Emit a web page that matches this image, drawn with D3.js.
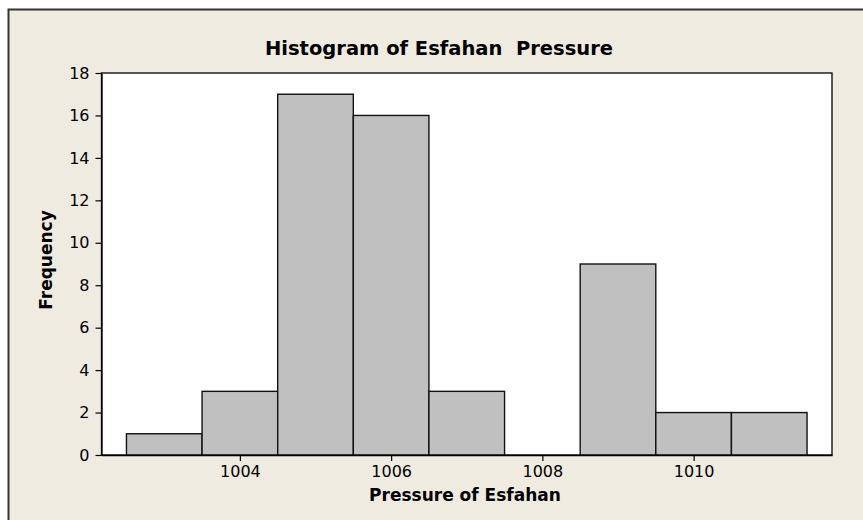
<!DOCTYPE html>
<html>
<head>
<meta charset="utf-8">
<script src="https://cdn.jsdelivr.net/npm/d3@7"></script>
<style>
  body { margin: 0; background: #ffffff; }
  svg text { font-family: Tahoma, "DejaVu Sans", sans-serif; fill: #000; }
</style>
</head>
<body>
<svg id="chart" width="863" height="520"></svg>
<script>
// histogram bins (lower edge), counts, axis ticks
const binStarts = [1002.5, 1003.5, 1004.5, 1005.5, 1006.5, 1007.5, 1008.5, 1009.5, 1010.5];
const binWidth = 1;
const counts = [1, 3, 17, 16, 3, 0, 9, 2, 2];
const xTicks = [1004, 1006, 1008, 1010];
const yTicks = [0, 2, 4, 6, 8, 10, 12, 14, 16, 18];

const svg = d3.select('#chart');
const margin = { left: 101.5, right: 31, top: 73, bottom: 65 };
const width = +svg.attr('width');
const height = +svg.attr('height');

// beige frame with a dark border on top and left
svg.append('rect')
  .attr('x', 8.5).attr('y', 9.5)
  .attr('width', width + 10).attr('height', height + 10)
  .attr('fill', '#efebe1')
  .attr('stroke', '#333')
  .attr('stroke-width', 2);

const x = d3.scaleLinear()
  .domain([1002.17, 1011.83])
  .range([margin.left, width - margin.right]);

const y = d3.scaleLinear()
  .domain([0, 18])
  .range([height - margin.bottom, margin.top]);

// white plot area
svg.append('rect')
  .attr('x', x.range()[0]).attr('y', y(18))
  .attr('width', x.range()[1] - x.range()[0])
  .attr('height', y(0) - y(18))
  .attr('fill', '#fff')
  .attr('stroke', '#000')
  .attr('stroke-width', 1.3);

// bars
svg.append('g').selectAll('rect.bar')
  .data(binStarts.map((s, i) => ({ s, c: counts[i] })))
  .enter().append('rect')
    .attr('class', 'bar')
    .attr('x', d => x(d.s))
    .attr('y', d => y(d.c))
    .attr('width', d => x(d.s + binWidth) - x(d.s))
    .attr('height', d => y(0) - y(d.c))
    .attr('fill', '#c0c0c0')
    .attr('stroke', '#111')
    .attr('stroke-width', 1.4);

// axes
const xAxis = svg.append('g')
  .attr('transform', `translate(0,${y(0)})`)
  .call(d3.axisBottom(x).tickValues(xTicks).tickFormat(d3.format('d')).tickSize(6).tickSizeOuter(0).tickPadding(5));
const yAxis = svg.append('g')
  .attr('transform', `translate(${x.range()[0]},0)`)
  .call(d3.axisLeft(y).tickValues(yTicks).tickSize(6).tickSizeOuter(0).tickPadding(6));

[xAxis, yAxis].forEach(g => {
  g.select('.domain').attr('stroke', '#000').attr('stroke-width', 1.3);
  g.selectAll('.tick line').attr('stroke', '#000').attr('stroke-width', 1.2);
  g.selectAll('.tick text').style('font-size', '16px').style('font-family', 'Tahoma, "DejaVu Sans", sans-serif').attr('fill', '#000');
});

// titles
svg.append('text')
  .attr('x', 439).attr('y', 55)
  .attr('text-anchor', 'middle')
  .style('font-size', '19.5px').style('font-weight', 'bold')
  .attr('xml:space', 'preserve')
  .text('Histogram of Esfahan  Pressure');

svg.append('text')
  .attr('x', 465).attr('y', 501)
  .attr('text-anchor', 'middle')
  .style('font-size', '17px').style('font-weight', 'bold')
  .text('Pressure of Esfahan');

svg.append('text')
  .attr('transform', 'translate(52,260) rotate(-90)')
  .attr('text-anchor', 'middle')
  .style('font-size', '17px').style('font-weight', 'bold')
  .text('Frequency');
</script>
</body>
</html>
